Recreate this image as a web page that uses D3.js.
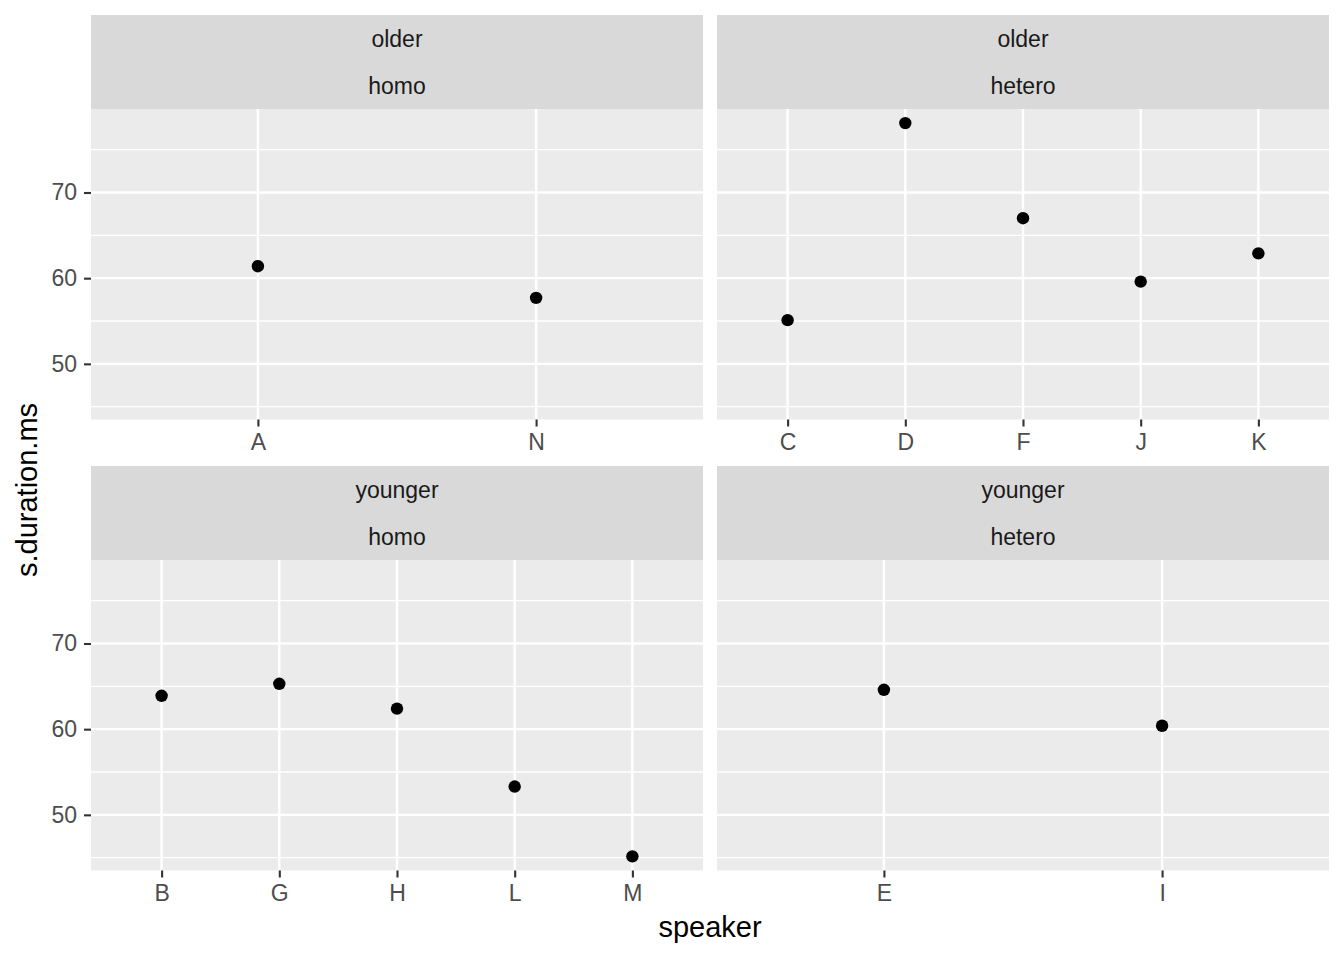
<!DOCTYPE html>
<html>
<head>
<meta charset="utf-8">
<script src="https://cdn.jsdelivr.net/npm/d3@7"></script>
<style>
  html, body { margin: 0; padding: 0; background: #fff; }
  svg { display: block; font-family: "Liberation Sans", Arial, Helvetica, sans-serif; }
</style>
</head>
<body>
<svg id="chart" width="1344" height="960"></svg>
<script>
// ---- data ----
const ageGroups = ["older", "older", "younger", "younger"];
const pairTypes = ["homo", "hetero", "homo", "hetero"];
const speakersOlderHomo = ["A", "N"];
const valuesOlderHomo = [61.4, 57.7];
const speakersOlderHetero = ["C", "D", "F", "J", "K"];
const valuesOlderHetero = [55.1, 78.1, 67.0, 59.6, 62.9];
const speakersYoungerHomo = ["B", "G", "H", "L", "M"];
const valuesYoungerHomo = [63.9, 65.3, 62.4, 53.3, 45.15];
const speakersYoungerHetero = ["E", "I"];
const valuesYoungerHetero = [64.6, 60.4];
const yTicks = [50, 60, 70];
const yMinorTicks = [45, 55, 65, 75];
const xTitle = "speaker";
const yTitle = "s.duration.ms";

const facetSpeakers = [speakersOlderHomo, speakersOlderHetero, speakersYoungerHomo, speakersYoungerHetero];
const facetValues = [valuesOlderHomo, valuesOlderHetero, valuesYoungerHomo, valuesYoungerHetero];

// ---- layout ----
const svg = d3.select("#chart");
const colX = [91, 717];
const panelW = 612;
const stripTop = [15, 466];
const stripH = 94;
const panelH = 310.5;

const allVals = facetValues.flat();
const lo = d3.min(allVals), hi = d3.max(allVals);
const pad = (hi - lo) * 0.05;

facetSpeakers.forEach((spk, i) => {
  const col = i % 2, row = Math.floor(i / 2);
  const x0 = colX[col];
  const sTop = stripTop[row];
  const pTop = sTop + stripH;

  const g = svg.append("g").attr("transform", `translate(${x0},${pTop})`);
  const y = d3.scaleLinear().domain([lo - pad, hi + pad]).range([panelH, 0]);
  const x = d3.scalePoint().domain(spk).range([0, panelW]).padding(0.6);

  // strip
  const sg = svg.append("g").attr("transform", `translate(${x0},${sTop})`);
  sg.append("rect").attr("width", panelW).attr("height", stripH).attr("fill", "#D9D9D9");
  sg.append("text").attr("x", panelW / 2).attr("y", 32).attr("text-anchor", "middle")
    .attr("fill", "#1A1A1A").attr("font-size", 23).text(ageGroups[i]);
  sg.append("text").attr("x", panelW / 2).attr("y", 79).attr("text-anchor", "middle")
    .attr("fill", "#1A1A1A").attr("font-size", 23).text(pairTypes[i]);

  // panel background
  g.append("rect").attr("width", panelW).attr("height", panelH).attr("fill", "#EBEBEB");

  // minor grid
  g.selectAll(".minor").data(yMinorTicks).enter().append("line")
    .attr("x1", 0).attr("x2", panelW)
    .attr("y1", d => y(d)).attr("y2", d => y(d))
    .attr("stroke", "#fff").attr("stroke-width", 1.3);
  // major grid y
  g.selectAll(".majory").data(yTicks).enter().append("line")
    .attr("x1", 0).attr("x2", panelW)
    .attr("y1", d => y(d)).attr("y2", d => y(d))
    .attr("stroke", "#fff").attr("stroke-width", 2.4);
  // major grid x
  g.selectAll(".majorx").data(spk).enter().append("line")
    .attr("x1", d => x(d)).attr("x2", d => x(d))
    .attr("y1", 0).attr("y2", panelH)
    .attr("stroke", "#fff").attr("stroke-width", 2.4);

  // points
  g.selectAll(".pt").data(spk.map((s, k) => ({ s, v: facetValues[i][k] }))).enter()
    .append("circle")
    .attr("cx", d => x(d.s)).attr("cy", d => y(d.v)).attr("r", 6.2).attr("fill", "#000");

  // x axis
  const xa = g.append("g").attr("transform", `translate(0,${panelH})`)
    .call(d3.axisBottom(x).tickSize(7).tickPadding(7));
  xa.select(".domain").remove();
  xa.selectAll(".tick line").attr("stroke", "#333333").attr("stroke-width", 2.1);
  xa.selectAll(".tick text").attr("fill", "#4D4D4D").attr("font-size", 23)
    .attr("font-family", "Liberation Sans, Arial, sans-serif");

  // y axis (left column only)
  if (col === 0) {
    const ya = g.append("g").call(d3.axisLeft(y).tickValues(yTicks).tickSize(7).tickPadding(7));
    ya.select(".domain").remove();
    ya.selectAll(".tick line").attr("stroke", "#333333").attr("stroke-width", 2.1);
    ya.selectAll(".tick text").attr("fill", "#4D4D4D").attr("font-size", 23)
      .attr("font-family", "Liberation Sans, Arial, sans-serif");
  }
});

// axis titles
svg.append("text").attr("x", 710).attr("y", 937).attr("text-anchor", "middle")
  .attr("font-size", 29).attr("fill", "#000").text(xTitle);
svg.append("text").attr("transform", "translate(37,490) rotate(-90)").attr("text-anchor", "middle")
  .attr("font-size", 29).attr("fill", "#000").text(yTitle);
</script>
</body>
</html>
